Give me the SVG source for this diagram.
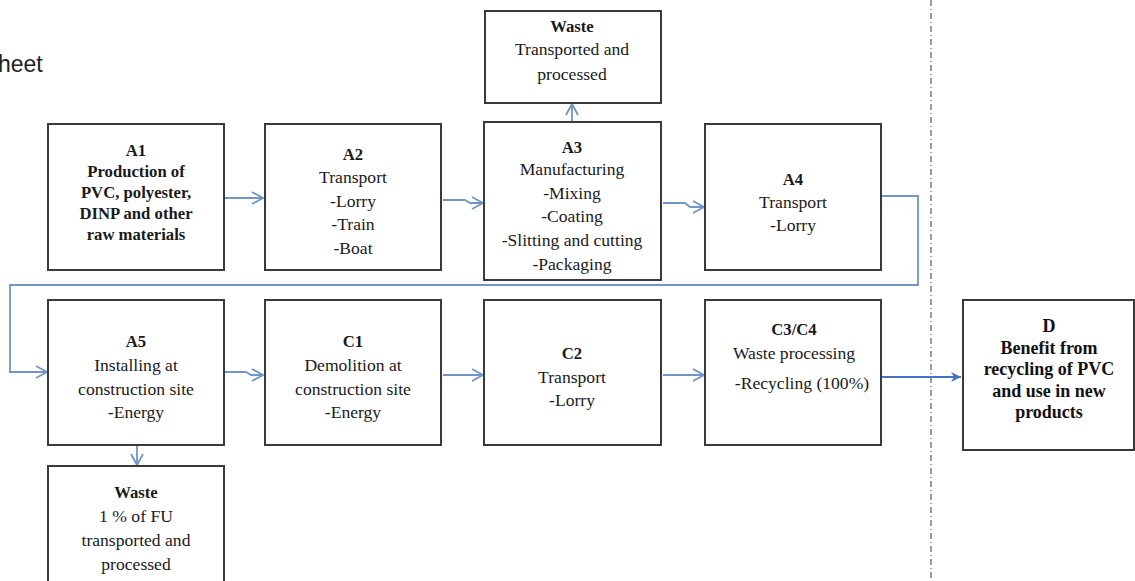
<svg xmlns="http://www.w3.org/2000/svg" width="1135" height="581" viewBox="0 0 1135 581">
<defs>
<style>
.box{fill:#fff;stroke:#3a3a3a;stroke-width:2}
.t{font-family:"Liberation Serif","Times New Roman",serif;font-size:17.6px;fill:#1a1a1a;text-anchor:middle}
.b{font-weight:bold;font-size:16.7px}
.d{font-family:"Liberation Serif","Times New Roman",serif;font-weight:bold;font-size:18px;fill:#111;text-anchor:middle}
.c{fill:none;stroke:#6f95c9;stroke-width:1.8}
.cd{fill:none;stroke:#4472c4;stroke-width:2}
</style>
<marker id="open" markerWidth="14" markerHeight="14" refX="12" refY="7" orient="auto" markerUnits="userSpaceOnUse">
<path d="M1,1 L12,7 L1,13" fill="none" stroke="#6f95c9" stroke-width="1.8"/>
</marker>
<marker id="solid" markerWidth="12" markerHeight="12" refX="10" refY="6" orient="auto" markerUnits="userSpaceOnUse">
<path d="M0,1 L10,6 L0,11 L3,6 Z" fill="#4472c4"/>
</marker>
</defs>
<rect width="1135" height="581" fill="#fff"/>
<text x="-2" y="72" font-family="Liberation Sans, Arial, sans-serif" font-size="23" fill="#222">heet</text>
<line x1="931" y1="0" x2="931" y2="581" stroke="#666" stroke-width="1.3" stroke-dasharray="6 3 1 3"/>

<g id="connectors">
<path class="c" d="M224,198 H263" marker-end="url(#open)"/>
<path class="c" d="M443,200 H465 L470,203 H483" marker-end="url(#open)"/>
<path class="c" d="M572,122 V104" marker-end="url(#open)"/>
<path class="c" d="M663,203 H685 L690,207 H704" marker-end="url(#open)"/>
<path class="c" d="M881,196 H918 V285 H10 V372 H47" marker-end="url(#open)"/>
<path class="c" d="M224,372 H246 L251,375 H263" marker-end="url(#open)"/>
<path class="c" d="M443,375 H483" marker-end="url(#open)"/>
<path class="c" d="M663,375 H704" marker-end="url(#open)"/>
<path class="c" d="M137,445 V465" marker-end="url(#open)"/>
<path class="cd" d="M881,377 H961" marker-end="url(#solid)"/>
</g>

<g id="A1">
<rect class="box" x="48" y="124" width="176" height="146"/>
<text class="t b" x="136" y="156">A1</text>
<text class="t b" x="136" y="177">Production of</text>
<text class="t b" x="136" y="198">PVC, polyester,</text>
<text class="t b" x="136" y="219">DINP and other</text>
<text class="t b" x="136" y="240">raw materials</text>
</g>
<g id="A2">
<rect class="box" x="265" y="124" width="176" height="146"/>
<text class="t b" x="353" y="160">A2</text>
<text class="t" x="353" y="183">Transport</text>
<text class="t" x="353" y="207">-Lorry</text>
<text class="t" x="353" y="230">-Train</text>
<text class="t" x="353" y="254">-Boat</text>
</g>
<g id="A3">
<rect class="box" x="484" y="122" width="177" height="158"/>
<text class="t b" x="572" y="153">A3</text>
<text class="t" x="572" y="175">Manufacturing</text>
<text class="t" x="572" y="199">-Mixing</text>
<text class="t" x="572" y="222">-Coating</text>
<text class="t" x="572" y="246">-Slitting and cutting</text>
<text class="t" x="572" y="270">-Packaging</text>
</g>
<g id="WasteTop">
<rect class="box" x="485" y="11" width="176" height="92"/>
<text class="t b" x="572" y="32">Waste</text>
<text class="t" x="572" y="55">Transported and</text>
<text class="t" x="572" y="80">processed</text>
</g>
<g id="A4">
<rect class="box" x="705" y="124" width="176" height="146"/>
<text class="t b" x="793" y="185">A4</text>
<text class="t" x="793" y="208">Transport</text>
<text class="t" x="793" y="231">-Lorry</text>
</g>
<g id="A5">
<rect class="box" x="48" y="300" width="176" height="145"/>
<text class="t b" x="136" y="347">A5</text>
<text class="t" x="136" y="371">Installing at</text>
<text class="t" x="136" y="395">construction site</text>
<text class="t" x="136" y="418">-Energy</text>
</g>
<g id="C1">
<rect class="box" x="265" y="300" width="176" height="145"/>
<text class="t b" x="353" y="347">C1</text>
<text class="t" x="353" y="371">Demolition at</text>
<text class="t" x="353" y="395">construction site</text>
<text class="t" x="353" y="418">-Energy</text>
</g>
<g id="C2">
<rect class="box" x="484" y="300" width="177" height="145"/>
<text class="t b" x="572" y="359">C2</text>
<text class="t" x="572" y="383">Transport</text>
<text class="t" x="572" y="406">-Lorry</text>
</g>
<g id="C3C4">
<rect class="box" x="705" y="300" width="176" height="145"/>
<text class="t b" x="794" y="335">C3/C4</text>
<text class="t" x="794" y="359">Waste processing</text>
<text class="t" x="802" y="389">-Recycling (100%)</text>
</g>
<g id="D">
<rect class="box" x="963" y="300" width="171" height="150"/>
<text class="d" x="1049" y="332">D</text>
<text class="d" x="1049" y="354">Benefit from</text>
<text class="d" x="1049" y="375">recycling of PVC</text>
<text class="d" x="1049" y="397">and use in new</text>
<text class="d" x="1049" y="418">products</text>
</g>
<g id="WasteBottom">
<rect class="box" x="48" y="466" width="176" height="120"/>
<text class="t b" x="136" y="498">Waste</text>
<text class="t" x="136" y="522">1 % of FU</text>
<text class="t" x="136" y="546">transported and</text>
<text class="t" x="136" y="570">processed</text>
</g>
</svg>
